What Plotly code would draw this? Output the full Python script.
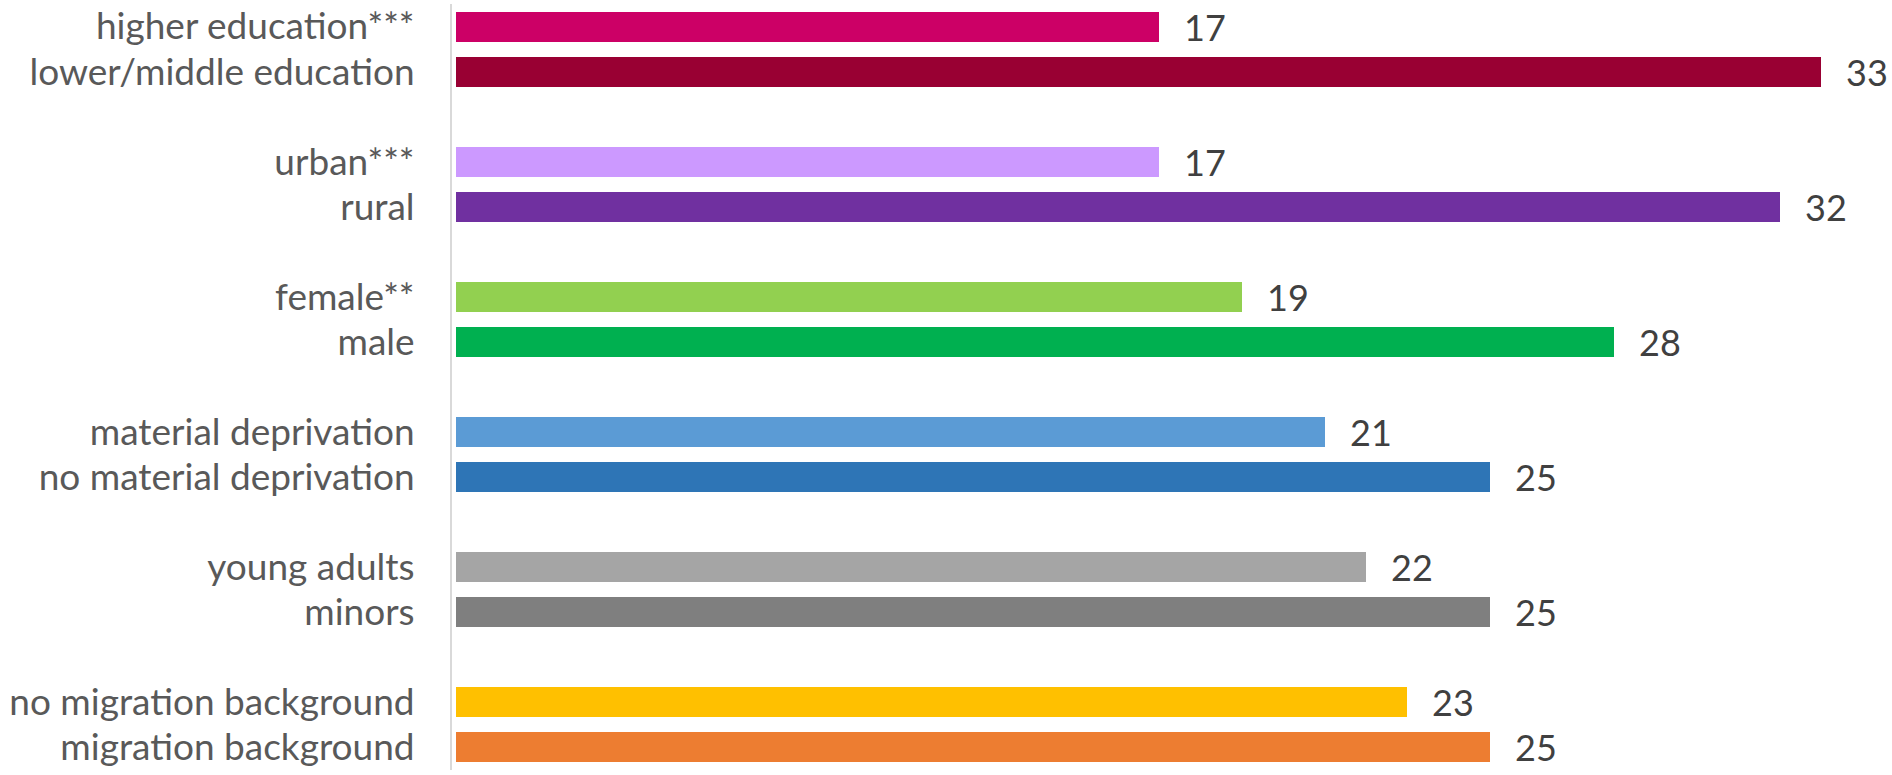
import plotly.graph_objects as go

# Data (top to bottom)
categories = [
    "higher education***", "lower/middle education",
    "urban***", "rural",
    "female**", "male",
    "material deprivation", "no material deprivation",
    "young adults", "minors",
    "no migration background", "migration background",
]
values = [17, 33, 17, 32, 19, 28, 21, 25, 22, 25, 23, 25]
colors = [
    "#CC0066", "#990033",
    "#CC99FF", "#7030A0",
    "#92D050", "#00B050",
    "#5B9BD5", "#2E75B6",
    "#A5A5A5", "#7F7F7F",
    "#FFC000", "#ED7D31",
]

# slot positions: pairs separated by one blank slot
positions = [3 * (i // 2) + (i % 2) for i in range(len(categories))]

FONT = "Lato, Calibri, Carlito, sans-serif"

fig = go.Figure()
fig.add_trace(go.Bar(
    x=values, y=positions, orientation="h",
    marker=dict(color=colors, line=dict(width=0)),
    width=0.665,
    hoverinfo="x+text", hovertext=categories,
))

for v, p in zip(values, positions):
    fig.add_annotation(
        x=v, y=p, text=str(v), showarrow=False,
        xanchor="left", yanchor="middle", xshift=23,
        font=dict(family=FONT, size=36, color="#404040"),
    )

fig.update_layout(
    width=1892, height=775,
    margin=dict(l=452, r=0, t=4, b=5, autoexpand=False),
    plot_bgcolor="white", paper_bgcolor="white",
    showlegend=False,
    bargap=0,
)
fig.update_xaxes(
    range=[-0.1, 34.72], visible=False, showgrid=False, zeroline=False,
    automargin=False,
)
fig.update_yaxes(
    range=[16.5, -0.5], automargin=False,
    tickmode="array", tickvals=positions, ticktext=categories,
    showline=True, linecolor="#D9D9D9", linewidth=2,
    showgrid=False, zeroline=False, ticks="",
    ticklabelstandoff=28,
    tickfont=dict(family=FONT, size=37, color="#595959"),
)

fig.write_html(
    "out.html",
    config={"displayModeBar": False},
    post_script="document.body.style.margin='0';document.body.style.overflow='hidden';",
)
